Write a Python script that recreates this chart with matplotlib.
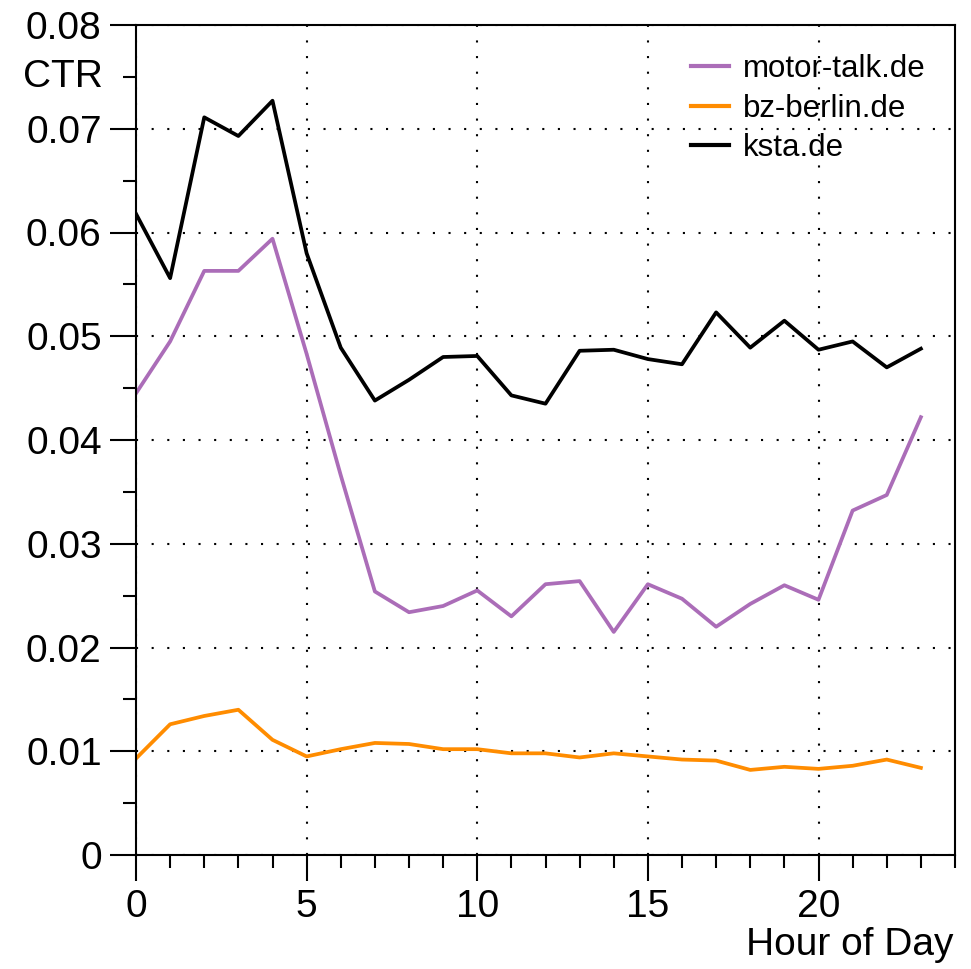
import matplotlib
matplotlib.use("Agg")
import matplotlib.pyplot as plt
from matplotlib.ticker import MultipleLocator

# hourly click-through rate per site
hours = list(range(24))
motor_talk = [0.0445, 0.0495, 0.0563, 0.0563, 0.0594, 0.0483, 0.0366, 0.0254,
              0.0234, 0.0240, 0.0255, 0.0230, 0.0261, 0.0264, 0.0215, 0.0261,
              0.0247, 0.0220, 0.0242, 0.0260, 0.0246, 0.0332, 0.0347, 0.0422]
bz_berlin = [0.0093, 0.0126, 0.0134, 0.0140, 0.0111, 0.0095, 0.0102, 0.0108,
             0.0107, 0.0102, 0.0102, 0.0098, 0.0098, 0.0094, 0.0098, 0.0095,
             0.0092, 0.0091, 0.0082, 0.0085, 0.0083, 0.0086, 0.0092, 0.0084]
ksta = [0.0618, 0.0556, 0.0711, 0.0693, 0.0727, 0.0580, 0.0489, 0.0438,
        0.0458, 0.0480, 0.0481, 0.0443, 0.0435, 0.0486, 0.0487, 0.0478,
        0.0473, 0.0523, 0.0489, 0.0515, 0.0487, 0.0495, 0.0470, 0.0488]

series = [("motor-talk.de", motor_talk, "#ab6db8"),
          ("bz-berlin.de", bz_berlin, "#ff8c00"),
          ("ksta.de", ksta, "black")]

plt.rcParams['font.family'] = ['Liberation Sans', 'DejaVu Sans']

fig = plt.figure(figsize=(9.71, 9.69), dpi=100)
ax = fig.add_axes([136 / 971, 1 - 855 / 969, 819 / 971, 830 / 969])

for name, vals, col in series:
    ax.plot(hours, vals, color=col, lw=2.7, label=name)

ax.set_xlim(0, 24)
ax.set_ylim(0, 0.08)
ax.xaxis.set_major_locator(MultipleLocator(5))
ax.xaxis.set_minor_locator(MultipleLocator(1))
ax.yaxis.set_major_locator(MultipleLocator(0.01))
ax.yaxis.set_minor_locator(MultipleLocator(0.005))
ax.yaxis.set_major_formatter(lambda v, p: "0" if abs(v) < 1e-9 else f"{v:.2f}")

ax.tick_params(which="major", direction="out", length=18.7, width=1.5,
               labelsize=28, pad=6)
ax.tick_params(which="minor", direction="out", length=9.4, width=1.5)
for sp in ax.spines.values():
    sp.set_linewidth(1.5)

ax.grid(True, which="major", color="black", lw=1.5, linestyle=(0, (1, 6.5)))
ax.set_axisbelow(True)

# axis titles sit beside the ticks rather than along the axes
ax.annotate("CTR", xy=(0, 0.075), xycoords=("axes fraction", "data"),
            xytext=(-24, 0), textcoords="offset points",
            ha="right", va="center", fontsize=28)
fig.text(953 / 971, 1 - 945 / 969, "Hour of Day", ha="right", va="center",
         fontsize=28)

leg = ax.legend(loc="upper left", bbox_to_anchor=(0.6777, 0.965), frameon=False,
                fontsize=22.5, handlelength=1.22, handletextpad=0.45,
                labelspacing=0.31, borderpad=0, borderaxespad=0)
for h in leg.get_lines():
    h.set_linewidth(3.0)

fig.savefig("out.png", dpi=100)
